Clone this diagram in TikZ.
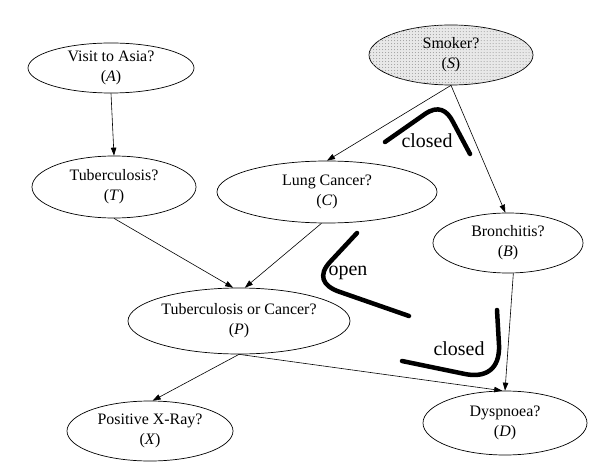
\documentclass[tikz,border=0pt]{standalone}
\usepackage{fontspec}
\setmainfont{Liberation Serif}
\usepackage{tikz}
\usetikzlibrary{arrows,arrows.meta,shapes,patterns}

\begin{document}
\begin{tikzpicture}[x=1bp, y=-1bp, inner sep=0pt]
    \tikzstyle{var}=[ellipse, draw=black, line width=0.7bp, fill=white, align=center, font=\fontsize{16}{20}\selectfont]
    \tikzstyle{smk}=[var, fill=gray!18, postaction={pattern=dots, pattern color=gray!80}]
    \tikzstyle{link}=[-{Triangle[length=8bp,width=5.5bp]}, line width=0.6bp]
    \tikzstyle{valve}=[line width=4.5bp, line cap=round, line join=round]
    \tikzstyle{vlab}=[font=\fontsize{20}{24}\selectfont]

    \useasboundingbox (0,0) rectangle (597,468);

    \node[var, minimum width=166bp, minimum height=50bp] (A) at (111,68) {Visit to Asia?\\(\textit{A})};
    \node[smk, minimum width=164bp, minimum height=60bp] (S) at (451,55) {Smoker?\\(\textit{S})};
    \node[var, minimum width=164bp, minimum height=62bp] (T) at (114,187) {Tuberculosis?\\(\textit{T})};
    \node[var, minimum width=220bp, minimum height=62bp] (C) at (327,192) {Lung Cancer?\\(\textit{C})};
    \node[var, minimum width=150bp, minimum height=60bp] (B) at (508,243) {Bronchitis?\\(\textit{B})};
    \node[var, minimum width=222bp, minimum height=66bp] (P) at (239,321) {Tuberculosis or Cancer?\\(\textit{P})};
    \node[var, minimum width=166bp, minimum height=60bp] (X) at (150,431) {Positive X-Ray?\\(\textit{X})};
    \node[var, minimum width=164bp, minimum height=64bp] (D) at (505,423) {Dyspnoea?\\(\textit{D})};

    \draw[link] (A.south) -- (T.north);
    \draw[link] (S.south) -- (C.north);
    \draw[link] (S.south) -- (B.95);
    \draw[link] (T.south) -- (P.100);
    \draw[link] (C.260) -- (P.80);
    \draw[link] (P.south) -- (X.85);
    \draw[link] (P.south) -- (D.95);
    \draw[link] (B.280) -- (D.north);

    % valves
    \draw[valve] (385,142) -- (425,114) .. controls (438,105) and (447,110) .. (453,122) -- (470,154);
    \draw[valve] (357,233) -- (330,262) .. controls (318,275) and (322,286) .. (340,292) -- (409,316);
    \draw[valve] (497,310) -- (499,345) .. controls (500,370) and (485,378) .. (465,374) -- (402,361);

    \node[vlab] (v1) at (427,141) {closed};
    \node[vlab] (v2) at (348,273) {open};
    \node[vlab] (v3) at (459,349) {closed};
\end{tikzpicture}
\end{document}
